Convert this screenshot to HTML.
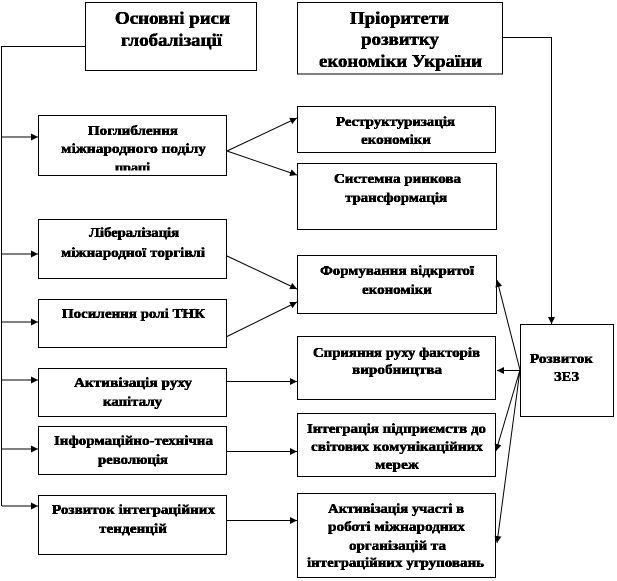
<!DOCTYPE html>
<html><head><meta charset="utf-8"><style>
html,body{margin:0;padding:0;background:#fff}
svg{display:block}
text{font-family:"Liberation Serif",serif;font-weight:bold;fill:#000;stroke:#000;stroke-width:.6px;font-size:14px}
text.t{font-size:18px}
rect{fill:#fff;stroke:#000;stroke-width:1}
line,polyline{stroke:#000;stroke-width:1;fill:none}
</style></head><body>
<svg xmlns="http://www.w3.org/2000/svg" width="617" height="581" viewBox="0 0 617 581">
<defs>
<marker id="a" markerUnits="userSpaceOnUse" markerWidth="8" markerHeight="8" refX="7" refY="4" orient="auto"><path d="M0 .5L7 4L0 7.5Z" fill="#000"/></marker>
<clipPath id="c"><rect x="40" y="150" width="180" height="20.5"/></clipPath>
<filter id="th" x="0" y="0" width="100%" height="100%" filterUnits="userSpaceOnUse" primitiveUnits="userSpaceOnUse" color-interpolation-filters="sRGB">
<feComponentTransfer><feFuncA type="discrete" tableValues="0 0 1 1"/></feComponentTransfer>
</filter>
</defs>
<g shape-rendering="crispEdges">
<rect x="85.5" y="2.5" width="171" height="68"/>
<rect x="297.5" y="2.5" width="205" height="71.5"/>
<rect x="297.5" y="106.5" width="198" height="46"/>
<rect x="297.5" y="163.5" width="199" height="66"/>
<rect x="297.5" y="255.5" width="199" height="58"/>
<rect x="297.5" y="336.5" width="198" height="63"/>
<rect x="297.5" y="413.5" width="198" height="63"/>
<rect x="297.5" y="493.5" width="198" height="84"/>
<rect x="520.5" y="324.5" width="93" height="92"/>
<rect x="38.5" y="115.5" width="188" height="60"/>
<rect x="38.5" y="219.5" width="188" height="59"/>
<rect x="38.5" y="299.5" width="188" height="48"/>
<rect x="38.5" y="368.5" width="188" height="48"/>
<rect x="38.5" y="426.5" width="188" height="48"/>
<rect x="38.5" y="495.5" width="188" height="59"/>
<line x1="1.5" y1="46" x2="1.5" y2="506"/>
<line x1="1" y1="46.5" x2="85" y2="46.5"/>
</g>
<g>
<line x1="2" y1="137" x2="38" y2="137" marker-end="url(#a)"/>
<line x1="2" y1="254" x2="38" y2="254" marker-end="url(#a)"/>
<line x1="2" y1="322" x2="38" y2="322" marker-end="url(#a)"/>
<line x1="2" y1="380" x2="38" y2="380" marker-end="url(#a)"/>
<line x1="2" y1="449" x2="38" y2="449" marker-end="url(#a)"/>
<line x1="2" y1="506" x2="38" y2="506" marker-end="url(#a)"/>
<line x1="227" y1="151" x2="297" y2="118" marker-end="url(#a)"/>
<line x1="227" y1="151" x2="297" y2="175" marker-end="url(#a)"/>
<line x1="227" y1="256" x2="297" y2="289" marker-end="url(#a)"/>
<line x1="227" y1="336.5" x2="297" y2="302" marker-end="url(#a)"/>
<line x1="227" y1="381.5" x2="297" y2="381.5" marker-end="url(#a)"/>
<line x1="227" y1="451.5" x2="297" y2="451.5" marker-end="url(#a)"/>
<line x1="227" y1="520.5" x2="297" y2="520.5" marker-end="url(#a)"/>
<polyline points="502,37.5 551.5,37.5 551.5,324" marker-end="url(#a)"/>
<line x1="520" y1="370.5" x2="497" y2="370.5" marker-end="url(#a)"/>
<line x1="520" y1="370" x2="497" y2="280" marker-end="url(#a)"/>
<line x1="520" y1="370" x2="496" y2="451" marker-end="url(#a)"/>
<line x1="520" y1="370" x2="497" y2="543" marker-end="url(#a)"/>
</g>
<g filter="url(#th)">
<text class="t" x="115" y="24" textLength="115" lengthAdjust="spacingAndGlyphs">Основні риси</text>
<text class="t" x="121" y="46" textLength="101" lengthAdjust="spacingAndGlyphs">глобалізації</text>
<text class="t" x="350" y="24" textLength="99" lengthAdjust="spacingAndGlyphs">Пріоритети</text>
<text class="t" x="361" y="45" textLength="78" lengthAdjust="spacingAndGlyphs">розвитку</text>
<text class="t" x="319" y="67" textLength="163" lengthAdjust="spacingAndGlyphs">економіки України</text>
<text x="88" y="135" textLength="90" lengthAdjust="spacingAndGlyphs">Поглиблення</text>
<text x="61" y="153" textLength="145" lengthAdjust="spacingAndGlyphs">міжнародного поділу</text>
<g clip-path="url(#c)"><text x="115" y="172" textLength="35" lengthAdjust="spacingAndGlyphs">праці</text></g>
<text x="89" y="237" textLength="90" lengthAdjust="spacingAndGlyphs">Лібералізація</text>
<text x="61" y="257" textLength="144" lengthAdjust="spacingAndGlyphs">міжнародної торгівлі</text>
<text x="62" y="318" textLength="143" lengthAdjust="spacingAndGlyphs">Посилення ролі ТНК</text>
<text x="74" y="387" textLength="118" lengthAdjust="spacingAndGlyphs">Активізація руху</text>
<text x="103" y="406" textLength="59" lengthAdjust="spacingAndGlyphs">капіталу</text>
<text x="54" y="445" textLength="159" lengthAdjust="spacingAndGlyphs">Інформаційно-технічна</text>
<text x="98" y="464" textLength="70" lengthAdjust="spacingAndGlyphs">революція</text>
<text x="52" y="514" textLength="163" lengthAdjust="spacingAndGlyphs">Розвиток інтеграційних</text>
<text x="99" y="533" textLength="68" lengthAdjust="spacingAndGlyphs">тенденцій</text>
<text x="336" y="126" textLength="119" lengthAdjust="spacingAndGlyphs">Реструктуризація</text>
<text x="361" y="144" textLength="70" lengthAdjust="spacingAndGlyphs">економіки</text>
<text x="334" y="183" textLength="127" lengthAdjust="spacingAndGlyphs">Системна ринкова</text>
<text x="345" y="202" textLength="102" lengthAdjust="spacingAndGlyphs">трансформація</text>
<text x="320" y="275" textLength="154" lengthAdjust="spacingAndGlyphs">Формування відкритої</text>
<text x="362" y="294" textLength="70" lengthAdjust="spacingAndGlyphs">економіки</text>
<text x="313" y="357" textLength="167" lengthAdjust="spacingAndGlyphs">Сприяння руху факторів</text>
<text x="352" y="374" textLength="90" lengthAdjust="spacingAndGlyphs">виробництва</text>
<text x="307" y="433" textLength="179" lengthAdjust="spacingAndGlyphs">Інтеграція підприємств до</text>
<text x="311" y="451" textLength="172" lengthAdjust="spacingAndGlyphs">світових комунікаційних</text>
<text x="375" y="469" textLength="44" lengthAdjust="spacingAndGlyphs">мереж</text>
<text x="328" y="513" textLength="136" lengthAdjust="spacingAndGlyphs">Активізація участі в</text>
<text x="328" y="531" textLength="137" lengthAdjust="spacingAndGlyphs">роботі міжнародних</text>
<text x="349" y="550" textLength="97" lengthAdjust="spacingAndGlyphs">організацій та</text>
<text x="307" y="567" textLength="177" lengthAdjust="spacingAndGlyphs">інтеграційних угруповань</text>
<text x="530" y="363" textLength="63" lengthAdjust="spacingAndGlyphs">Розвиток</text>
<text x="554" y="381" textLength="25" lengthAdjust="spacingAndGlyphs">ЗЕЗ</text>
</g>
</svg>
</body></html>
